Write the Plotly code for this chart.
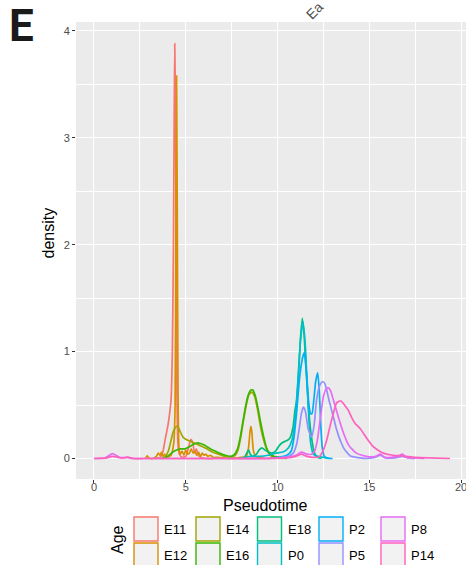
import plotly.graph_objects as go

# ---------------- data ----------------
ages = ["E11", "E12", "E14", "E16", "E18", "P0", "P2", "P5", "P8", "P14"]
colors = ["#F8766D", "#D89000", "#A3A500", "#39B600", "#00BF7D",
          "#00BFC4", "#00B0F6", "#9590FF", "#E76BF3", "#FF62BC"]

e11_x = [3.3, 3.6, 3.75, 3.87, 3.95, 4.03, 4.12, 4.2, 4.27, 4.33, 4.37, 4.40, 4.44, 4.48, 4.52, 4.57,
         4.65, 4.8, 5.0, 5.15, 5.28, 5.38, 5.48, 5.58, 5.68, 5.85, 6.1, 6.5]
e11_y = [0.0, 0.01, 0.06, 0.17, 0.24, 0.31, 0.42, 0.55, 1.0, 2.0, 3.2, 3.88, 3.3, 1.8, 0.6, 0.15,
         0.04, 0.01, 0.02, 0.1, 0.18, 0.15, 0.05, 0.09, 0.03, 0.01, 0.0, 0.0]

e12_x = [2.8, 2.9, 3.0, 3.2, 3.4, 3.5, 3.6, 3.68, 3.75, 3.85, 4.0, 4.2, 4.35, 4.42, 4.46, 4.50, 4.54,
         4.58, 4.63, 4.7, 4.8, 4.9, 5.0, 5.1, 5.2, 5.3, 5.4, 5.5, 5.6, 5.7, 5.8, 5.9, 6.0, 6.1, 6.2,
         6.35, 6.5, 6.7, 7.0, 7.5, 8.0, 8.3, 8.42, 8.5, 8.55, 8.6, 8.68, 8.8, 9.0, 9.3]
e12_y = [0.0, 0.025, 0.005, 0.0, 0.02, 0.05, 0.03, 0.06, 0.02, 0.04, 0.01, 0.03, 0.15, 0.5, 2.0, 3.58, 2.2,
         0.6, 0.1, 0.04, 0.07, 0.03, 0.08, 0.04, 0.05, 0.09, 0.05, 0.07, 0.03, 0.06, 0.02, 0.05, 0.03, 0.04, 0.02,
         0.03, 0.01, 0.01, 0.005, 0.0, 0.01, 0.02, 0.1, 0.25, 0.3, 0.25, 0.08, 0.02, 0.01, 0.0]

e14_x = [3.7, 3.9, 4.05, 4.2, 4.3, 4.4, 4.5, 4.6, 4.7, 4.85, 5.0, 5.2, 5.4, 5.6, 5.85, 6.15, 6.45, 6.7,
         7.0, 7.25, 7.5, 7.7, 7.85, 8.0, 8.15, 8.3, 8.45, 8.6, 8.75, 8.9, 9.05, 9.2, 9.4, 9.6, 9.9, 10.3]
e14_y = [0.0, 0.02, 0.07, 0.17, 0.24, 0.28, 0.30, 0.29, 0.25, 0.2, 0.18, 0.165, 0.15, 0.135, 0.115, 0.09, 0.06, 0.045,
         0.025, 0.012, 0.01, 0.03, 0.08, 0.2, 0.36, 0.5, 0.6, 0.62, 0.58, 0.47, 0.32, 0.2, 0.09, 0.03, 0.01, 0.0]

e16_x = [3.7, 3.87, 4.0, 4.15, 4.3, 4.5, 4.7, 4.95, 5.2, 5.4, 5.6, 5.8, 6.0, 6.2, 6.4, 6.65, 6.9, 7.15,
         7.4, 7.6, 7.8, 7.95, 8.1, 8.25, 8.4, 8.55, 8.65, 8.8, 8.95, 9.1, 9.25, 9.4, 9.6, 9.8, 10.1, 10.5]
e16_y = [0.0, 0.005, 0.02, 0.04, 0.06, 0.08, 0.09, 0.09, 0.11, 0.13, 0.145, 0.14, 0.125, 0.105, 0.085, 0.065, 0.045, 0.03,
         0.02, 0.03, 0.08, 0.18, 0.33, 0.48, 0.59, 0.64, 0.64, 0.58, 0.46, 0.32, 0.2, 0.1, 0.04, 0.02, 0.01, 0.0]

e18_x = [7.9, 8.2, 8.32, 8.42, 8.52, 8.65, 8.85, 9.0, 9.15, 9.3, 9.5, 9.7, 9.9, 10.05, 10.2, 10.4, 10.55,
         10.7, 10.85, 10.95, 11.05, 11.15, 11.25, 11.35, 11.45, 11.55, 11.7, 11.85, 12.0, 12.15, 12.4]
e18_y = [0.0, 0.01, 0.05, 0.08, 0.04, 0.02, 0.04, 0.08, 0.1, 0.08, 0.06, 0.05, 0.07, 0.11, 0.14, 0.16, 0.17,
         0.2, 0.3, 0.45, 0.55, 0.8, 1.12, 1.31, 1.15, 0.85, 0.45, 0.2, 0.06, 0.01, 0.0]

p0_x = [8.0, 8.5, 9.0, 9.5, 9.9, 10.3, 10.6, 10.8, 10.95, 11.1, 11.25, 11.38, 11.5, 11.6, 11.7, 11.8,
        11.95, 12.2, 12.5, 12.8]
p0_y = [0.0, 0.02, 0.02, 0.03, 0.05, 0.06, 0.1, 0.18, 0.35, 0.7, 1.1, 1.28, 1.1, 0.75, 0.4, 0.15,
        0.04, 0.02, 0.01, 0.0]

p2_x = [9.5, 10.0, 10.5, 10.75, 10.9, 11.05, 11.2, 11.35, 11.46, 11.58, 11.7, 11.8, 11.88, 11.98, 12.08,
        12.19, 12.28, 12.36, 12.44, 12.55, 12.7, 13.0]
p2_y = [0.0, 0.01, 0.03, 0.07, 0.2, 0.45, 0.75, 0.93, 0.99, 0.8, 0.52, 0.42, 0.42, 0.55, 0.72,
        0.8, 0.62, 0.3, 0.1, 0.02, 0.005, 0.0]

p5_x = [9.8, 10.2, 10.6, 10.86, 11.05, 11.2, 11.3, 11.41, 11.52, 11.68, 11.86, 12.0, 12.13, 12.32, 12.46,
        12.58, 12.68, 12.8, 12.95, 13.1, 13.22, 13.35, 13.49, 13.63, 13.77, 14.0, 14.3, 14.8, 15.3, 15.6,
        15.9, 16.4, 16.8, 17.1, 17.5]
p5_y = [0.0, 0.01, 0.02, 0.05, 0.14, 0.3, 0.42, 0.48, 0.44, 0.27, 0.2, 0.32, 0.55, 0.69, 0.72,
        0.7, 0.64, 0.55, 0.45, 0.35, 0.27, 0.2, 0.14, 0.09, 0.06, 0.02, 0.01, 0.0, 0.01, 0.03,
        0.005, 0.005, 0.02, 0.005, 0.0]

p8_x = [0.0, 0.6, 0.8, 1.0, 1.2, 1.45, 1.8, 2.2, 3.0, 6.0, 9.5, 10.5, 11.0, 11.3, 11.6, 11.85, 12.0,
        12.17, 12.32, 12.5, 12.65, 12.77, 12.9, 13.04, 13.31, 13.59, 13.86, 14.1, 14.3, 14.6, 15.0, 15.35,
        15.6, 15.85, 16.2, 16.55, 16.8, 17.05, 17.5, 18.0]
p8_y = [0.0, 0.005, 0.025, 0.045, 0.03, 0.008, 0.01, 0.0, 0.0, 0.0, 0.0, 0.01, 0.03, 0.06, 0.04, 0.04, 0.06,
        0.17, 0.36, 0.58, 0.65, 0.66, 0.63, 0.55, 0.39, 0.24, 0.13, 0.08, 0.05, 0.03, 0.015, 0.02,
        0.04, 0.01, 0.01, 0.02, 0.04, 0.01, 0.005, 0.0]

p14_x = [0.0, 0.7, 1.0, 1.3, 1.6, 1.85, 2.1, 3.0, 5.0, 8.0, 10.5, 11.0, 11.3, 11.6, 12.0, 12.3, 12.5,
         12.68, 12.86, 13.04, 13.22, 13.44, 13.65, 13.86, 14.05, 14.22, 14.5, 14.86, 15.22, 15.5, 15.77,
         16.3, 16.8, 17.5, 18.2, 19.4]
p14_y = [0.0, 0.005, 0.02, 0.01, 0.005, 0.012, 0.0, 0.0, 0.0, 0.0, 0.005, 0.02, 0.04, 0.02, 0.01, 0.02, 0.08,
         0.17, 0.3, 0.42, 0.52, 0.54, 0.5, 0.45, 0.38, 0.33, 0.28, 0.19, 0.11, 0.075, 0.05,
         0.03, 0.025, 0.01, 0.005, 0.0]

series_x = [e11_x, e12_x, e14_x, e16_x, e18_x, p0_x, p2_x, p5_x, p8_x, p14_x]
series_y = [e11_y, e12_y, e14_y, e16_y, e18_y, p0_y, p2_y, p5_y, p8_y, p14_y]

x_ticks = [0, 5, 10, 15, 20]
y_ticks = [0, 1, 2, 3, 4]

# ---------------- layout geometry ----------------
W, H = 466, 565
ML, MR, MT, MB = 76, 0, 22, 86
PW = W - ML - MR
PH = H - MT - MB
FONT = "Liberation Sans, Arial, Helvetica, sans-serif"


def px(xp):
    return (xp - ML) / PW


def py(yp):
    return (H - MB - yp) / PH


fig = go.Figure()
for name, col, xs, ys in zip(ages, colors, series_x, series_y):
    fig.add_trace(go.Scatter(x=xs, y=ys, mode="lines", name=name,
                             line=dict(color=col, width=1.7, shape="spline", smoothing=0.5),
                             showlegend=False, hoverinfo="skip"))

grid_major = dict(showgrid=True, gridcolor="white", gridwidth=1.3)
fig.update_xaxes(range=[-0.98, 20.27], tickvals=x_ticks, ticks="outside", ticklen=3,
                 tickcolor="#333333", tickwidth=1, ticklabelstandoff=-5, ticklabeloverflow="allow",
                 tickfont=dict(family=FONT, size=11, color="#4D4D4D"),
                 zeroline=False, showline=False,
                 minor=dict(dtick=2.5, tick0=0, showgrid=True, gridcolor="white", gridwidth=0.6),
                 **grid_major)
fig.update_yaxes(range=[-0.192, 4.083], tickvals=y_ticks, ticks="outside", ticklen=3,
                 tickcolor="#333333", tickwidth=1,
                 tickfont=dict(family=FONT, size=11, color="#4D4D4D"),
                 zeroline=False, showline=False,
                 minor=dict(dtick=0.5, tick0=0, showgrid=True, gridcolor="white", gridwidth=0.6),
                 **grid_major)

annotations = [
    dict(text="density", x=px(48), y=py(233.5), textangle=-90, font=dict(family=FONT, size=16, color="black")),
    dict(text="Pseudotime", x=px(265.5), y=py(505), font=dict(family=FONT, size=16, color="black")),
    dict(text="Age", x=px(117), y=py(540), textangle=-90, font=dict(family=FONT, size=16, color="black")),
    dict(text="<b>E</b>", x=px(21.5), y=py(26),
         font=dict(family="Roboto, Liberation Sans, Arial", size=44, color="#1A1A1A")),
    dict(text="Ea", x=px(314), y=py(11), textangle=-45,
         font=dict(family=FONT, size=14, color="#4D4D4D")),
]

shapes = []
col_left = [134, 196, 257.5, 319, 381]
row_top = [517, 543]
box = 24
for i, (name, col) in enumerate(zip(ages, colors)):
    c, r = i // 2, i % 2
    x0, y0 = col_left[c], row_top[r]
    shapes.append(dict(type="rect", xref="paper", yref="paper",
                       x0=px(x0), x1=px(x0 + box), y0=py(y0 + box), y1=py(y0),
                       line=dict(color=col, width=1.4), fillcolor="#F2F2F2", layer="above"))
    annotations.append(dict(text=name, x=px(x0 + 28), y=py(y0 + 12.5), xanchor="left",
                            font=dict(family=FONT, size=13, color="black")))

for a in annotations:
    a.setdefault("xref", "paper")
    a.setdefault("yref", "paper")
    a.setdefault("showarrow", False)
    a.setdefault("xanchor", "center")
    a.setdefault("yanchor", "middle")

fig.update_layout(width=W, height=H, margin=dict(l=ML, r=MR, t=MT, b=MB, pad=0),
                  plot_bgcolor="#EBEBEB", paper_bgcolor="white",
                  font=dict(family=FONT), showlegend=False,
                  annotations=annotations, shapes=shapes)

fig.write_html("out.html")
